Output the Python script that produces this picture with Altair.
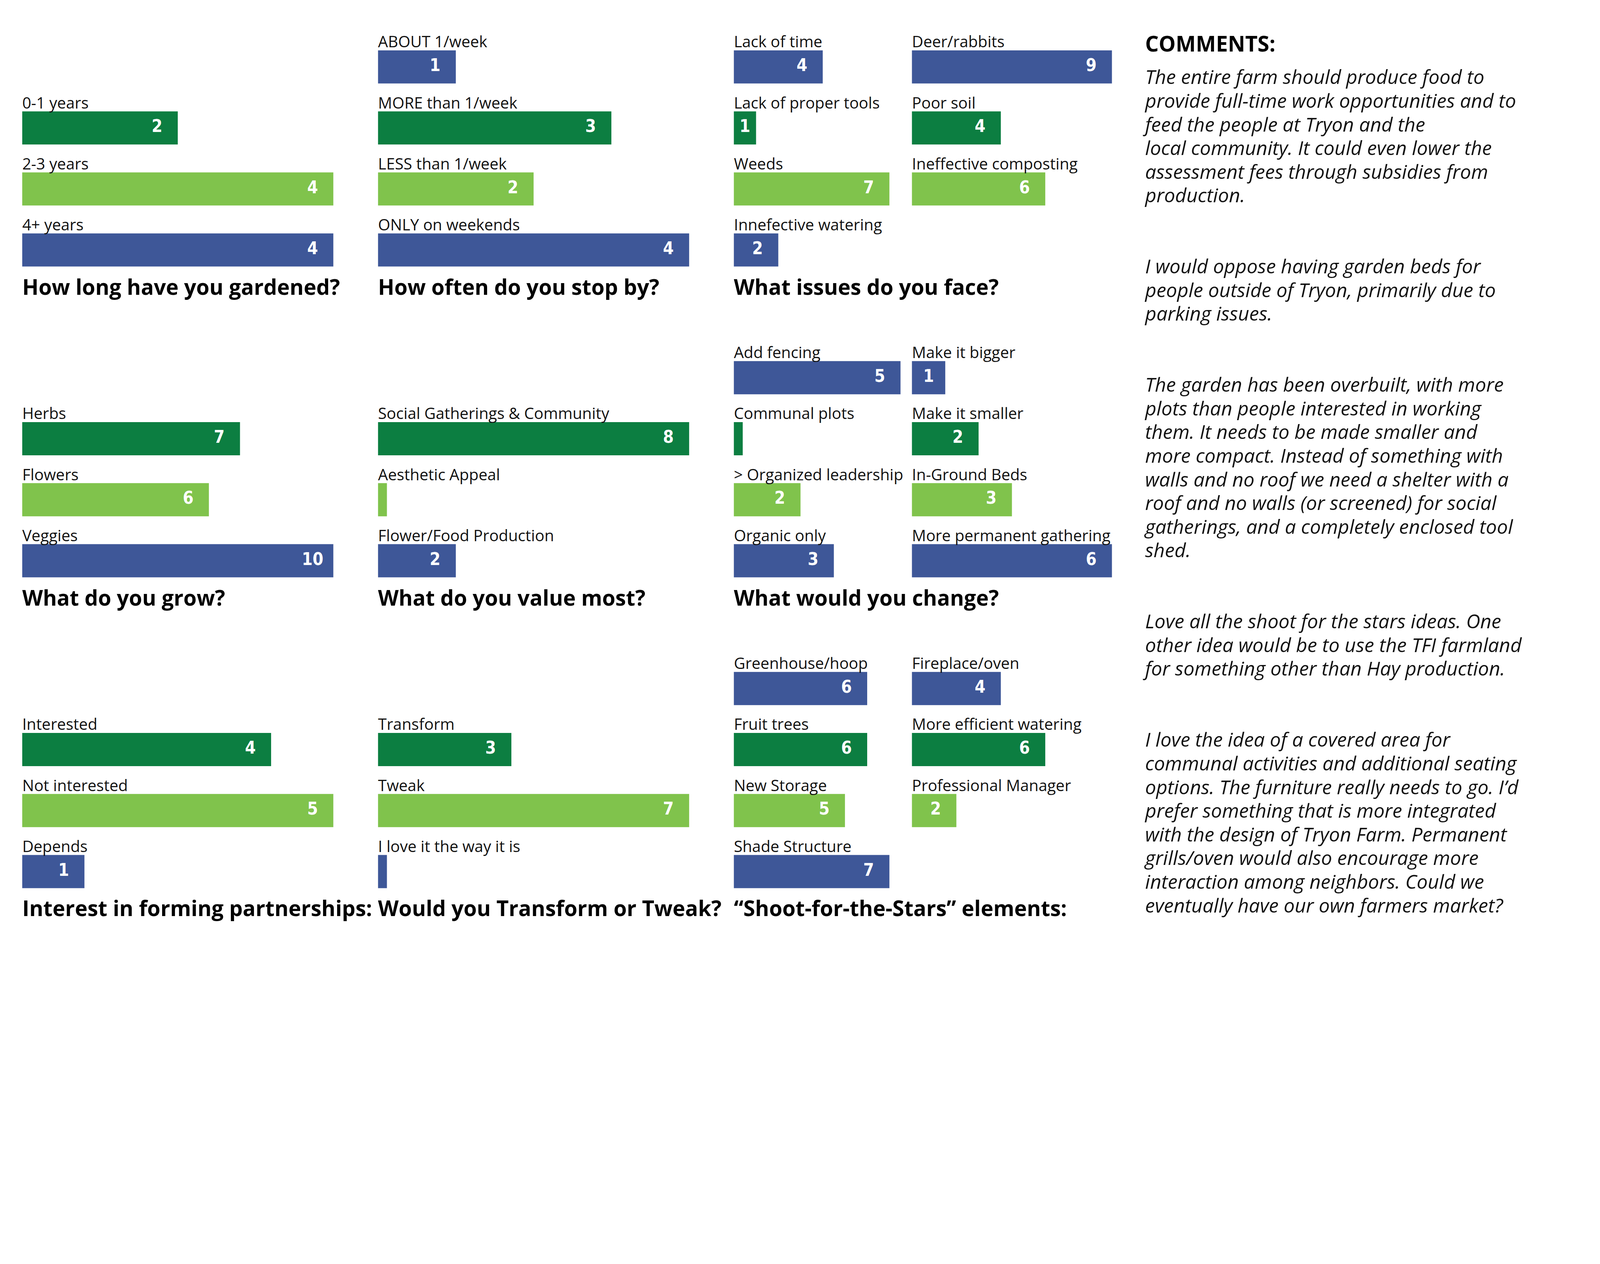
import altair as alt
import pandas as pd

# ---------------- data ----------------
q1_title = "How long have you gardened?"
q1_labels = ["0-1 years", "2-3 years", "4+ years"]
q1_values = [2, 4, 4]

q2_title = "How often do you stop by?"
q2_labels = ["ABOUT 1/week", "MORE than 1/week", "LESS than 1/week", "ONLY on weekends"]
q2_values = [1, 3, 2, 4]

q3_title = "What issues do you face?"
q3a_labels = ["Lack of time", "Lack of proper tools", "Weeds", "Innefective watering"]
q3a_values = [4, 1, 7, 2]
q3b_labels = ["Deer/rabbits", "Poor soil", "Ineffective composting"]
q3b_values = [9, 4, 6]

q4_title = "What do you grow?"
q4_labels = ["Herbs", "Flowers", "Veggies"]
q4_values = [7, 6, 10]

q5_title = "What do you value most?"
q5_labels = ["Social Gatherings & Community", "Aesthetic Appeal", "Flower/Food Production"]
q5_values = [8, 0, 2]

q6_title = "What would you change?"
q6a_labels = ["Add fencing", "Communal plots", "> Organized leadership", "Organic only"]
q6a_values = [5, 0, 2, 3]
q6b_labels = ["Make it bigger", "Make it smaller", "In-Ground Beds", "More permanent gathering"]
q6b_values = [1, 2, 3, 6]

q7_title = "Interest in forming partnerships:"
q7_labels = ["Interested", "Not interested", "Depends"]
q7_values = [4, 5, 1]

q8_title = "Would you Transform or Tweak?"
q8_labels = ["Transform", "Tweak", "I love it the way it is"]
q8_values = [3, 7, 0]

q9_title = "\u201cShoot-for-the-Stars\u201d elements:"
q9a_labels = ["Greenhouse/hoop", "Fruit trees", "New Storage", "Shade Structure"]
q9a_values = [6, 6, 5, 7]
q9b_labels = ["Fireplace/oven", "More efficient watering", "Professional Manager"]
q9b_values = [4, 6, 2]

comments_header = "COMMENTS:"
comment_paragraphs = [
    ["The entire farm should produce food to",
     "provide full-time work opportunities and to",
     "feed the people at Tryon and the",
     "local community. It could even lower the",
     "assessment fees through subsidies from",
     "production."],
    ["I would oppose having garden beds for",
     "people outside of Tryon, primarily due to",
     "parking issues."],
    ["The garden has been overbuilt, with more",
     "plots than people interested in working",
     "them. It needs to be made smaller and",
     "more compact. Instead of something with",
     "walls and no roof we need a shelter with a",
     "roof and no walls (or screened) for social",
     "gatherings, and a completely enclosed tool",
     "shed."],
    ["Love all the shoot for the stars ideas. One",
     "other idea would be to use the TFI farmland",
     "for something other than Hay production."],
    ["I love the idea of a covered area for",
     "communal activities and additional seating",
     "options. The furniture really needs to go. I\u2019d",
     "prefer something that is more integrated",
     "with the design of Tryon Farm. Permanent",
     "grills/oven would also encourage more",
     "interaction among neighbors. Could we",
     "eventually have our own farmers market?"],
]

# ---------------- style ----------------
K = 4096 / 5400  # screenshot px -> css px


def px(v):
    return v * K


BLUE = "#3E5798"
DKGREEN = "#0C7E41"
LTGREEN = "#80C34C"
INK = "#111111"
SLOTS = [0, 1, 2, 3]
PANEL_H = 824
PAD_IN = 0.4563
MIN_BAR_PX = 30
LABEL_OFFSET_PX = 70
LABEL_FONT = "Open Sans"
TITLE_FONT = "Open Sans"
VALUE_FONT = "DejaVu Sans Condensed, Roboto, sans-serif"


def panel(labels, values, first_slot, width, unit_px, title=None):
    df = pd.DataFrame({
        "label": labels,
        "v": values,
        "slot": list(range(first_slot, first_slot + len(labels))),
    })
    xmax = width / unit_px
    min_len = MIN_BAR_PX / unit_px
    off = LABEL_OFFSET_PX / unit_px
    base = alt.Chart(df).transform_calculate(
        blen=f"max(datum.v, {min_len})",
        lx=f"max(datum.v - {off}, datum.v / 2)",
        x0="0",
    )
    xs = alt.Scale(domain=[0, xmax], nice=False, zero=True)
    y = alt.Y("slot:O", scale=alt.Scale(domain=SLOTS, paddingInner=PAD_IN,
                                        paddingOuter=PAD_IN / 2), axis=None)
    bars = base.mark_bar().encode(
        x=alt.X("blen:Q", scale=xs, axis=None),
        y=y,
        color=alt.Color("slot:O", scale=alt.Scale(domain=SLOTS,
                        range=[BLUE, DKGREEN, LTGREEN, BLUE]), legend=None),
    )
    cats = base.mark_text(align="left", baseline="alphabetic", dy=px(-66),
                          font=LABEL_FONT, fontSize=px(53), fontWeight=400,
                          color=INK).encode(
        x=alt.X("x0:Q", scale=xs, axis=None), y=y, text="label:N")
    vals = base.transform_filter("datum.v > 0").mark_text(
        align="center", baseline="middle", dy=px(-3), font=VALUE_FONT,
        fontSize=px(58), fontWeight="bold", color="white").encode(
        x=alt.X("lx:Q", scale=xs, axis=None), y=y, text="v:Q")
    props = dict(width=px(width), height=px(PANEL_H))
    if title:
        props["title"] = alt.TitleParams(
            text=title, orient="bottom", anchor="start", frame="group",
            offset=px(48), baseline="alphabetic", font=TITLE_FONT,
            fontSize=px(72), fontWeight="bold", color="black")
    return alt.layer(bars, cats, vals).properties(**props)


# comments column
lines = []
for k, para in enumerate(comment_paragraphs):
    if k > 0:
        lines += ["", ""]
    lines += para
cdf = pd.DataFrame({"i": list(range(len(lines))), "line": lines})
LINE_PX = 79.9
FIRST_BASE = 161
COMMENT_X = 37
COMMENTS_W = 1500
d0 = -FIRST_BASE / LINE_PX
d1 = (PANEL_H - FIRST_BASE) / LINE_PX

comment_text = alt.Chart(cdf).mark_text(
    align="left", baseline="alphabetic", font="Open Sans", fontStyle="italic",
    fontWeight=400, fontSize=px(66), color=INK).encode(
    x=alt.value(px(COMMENT_X)),
    y=alt.Y("i:Q", scale=alt.Scale(domain=[d0, d1], reverse=True, nice=False,
                                   zero=False), axis=None),
    text="line:N")
header = alt.Chart(pd.DataFrame({"h": [comments_header]})).mark_text(
    align="left", baseline="alphabetic", font="Open Sans", fontSize=px(72),
    fontWeight="bold", color="black").encode(
    x=alt.value(px(COMMENT_X)), y=alt.value(px(51)), text="h:N")
comments = alt.layer(comment_text, header).properties(
    width=px(COMMENTS_W), height=px(PANEL_H))


def blank():
    return alt.Chart(pd.DataFrame({"t": [""]})).mark_text().encode(
        text="t:N").properties(width=px(COMMENTS_W), height=px(PANEL_H))


cells = [
    panel(q1_labels, q1_values, 1, 1125, 262.5, q1_title),
    panel(q2_labels, q2_values, 0, 1125, 262.5, q2_title),
    panel(q3a_labels, q3a_values, 0, 525, 75, q3_title),
    panel(q3b_labels, q3b_values, 0, 675, 75),
    comments,
    panel(q4_labels, q4_values, 1, 1125, 105, q4_title),
    panel(q5_labels, q5_values, 1, 1125, 131.25, q5_title),
    panel(q6a_labels, q6a_values, 0, 525, 112.5, q6_title),
    panel(q6b_labels, q6b_values, 0, 675, 112.5),
    blank(),
    panel(q7_labels, q7_values, 1, 1125, 210, q7_title),
    panel(q8_labels, q8_values, 1, 1125, 150, q8_title),
    panel(q9a_labels, q9a_values, 0, 525, 75, q9_title),
    panel(q9b_labels, q9b_values, 0, 675, 75),
    blank(),
]

chart = alt.concat(
    *cells, columns=5, spacing={"row": px(224), "column": px(75)}, bounds="flush"
).properties(
    padding={"left": px(75) - 8, "top": px(115) - 8, "right": 10, "bottom": 60}
).configure(background="white").configure_view(strokeWidth=0, stroke="transparent")

chart.save("out.html", embed_options={"renderer": "svg", "actions": False})
